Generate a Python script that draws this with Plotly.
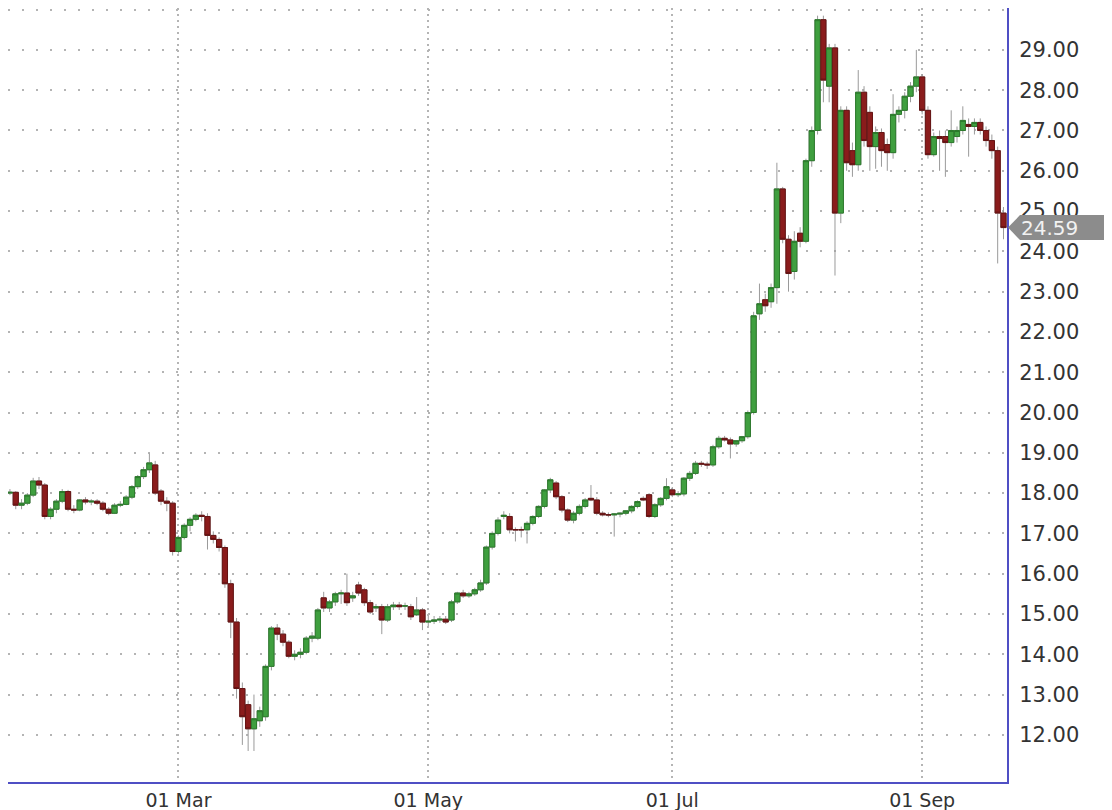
import pandas as pd
import plotly.graph_objects as go

# ---- data ----
HOLIDAYS = ["2020-01-20", "2020-02-17", "2020-04-10", "2020-05-25", "2020-07-03", "2020-09-07"]
DATES = [d.strftime("%Y-%m-%d") for d in pd.bdate_range("2020-01-16", "2020-09-22")
         if d.strftime("%Y-%m-%d") not in HOLIDAYS]

OPEN = [
    # Jan
    17.95, 18.00, 18.02, 17.70, 17.75, 17.95, 18.30, 18.20, 17.42, 17.60, 17.80,
    # Feb
    18.04, 17.60, 17.58, 17.83, 17.78, 17.80, 17.75, 17.60, 17.50, 17.70, 17.72, 17.90, 18.16, 18.41,
    18.58, 18.70, 18.05, 17.80, 17.75,
    # Mar
    16.55, 16.90, 17.20, 17.35, 17.45, 17.42, 16.95, 16.85, 16.65, 15.75, 14.80, 13.15, 12.75, 12.15,
    12.35, 12.45, 13.70, 14.65, 14.50, 14.30, 13.95, 14.00,
    # Apr
    14.05, 14.40, 14.40, 15.40, 15.15, 15.30, 15.50, 15.52, 15.40, 15.72, 15.60, 15.28, 15.15, 15.18,
    14.85, 15.18, 15.22, 15.20, 15.18, 14.98, 15.10,
    # May
    14.80, 14.82, 14.85, 14.87, 14.85, 15.30, 15.52, 15.45, 15.50, 15.60, 15.77, 16.66, 17.00, 17.42,
    17.42, 17.09, 17.09, 17.09, 17.25, 17.42,
    # Jun
    17.67, 18.08, 18.25, 17.91, 17.58, 17.33, 17.50, 17.67, 17.87, 17.83, 17.50, 17.46, 17.46, 17.48,
    17.50, 17.56, 17.67, 17.87, 17.96, 17.42, 17.71, 17.87,
    # Jul
    18.08, 17.96, 17.98, 18.37, 18.49, 18.74, 18.72, 18.70, 19.15, 19.36, 19.32, 19.22, 19.30, 19.40,
    20.00, 22.45, 22.80, 22.75, 23.10, 25.55, 24.30, 23.50,
    # Aug
    24.45, 24.25, 26.25, 27.00, 29.75, 28.10, 29.05, 24.95, 27.50, 26.50, 26.15, 27.95, 27.45, 26.60,
    26.95, 26.65, 26.45, 27.40, 27.50, 27.85, 28.10,
    # Sep
    28.33, 27.50, 26.40, 26.85, 26.85, 26.70, 26.85, 27.00, 27.15, 27.10, 27.20, 27.00, 26.75, 26.50,
    24.95,
]
HIGH = [
    18.10, 18.10, 18.05, 17.85, 18.00, 18.38, 18.40, 18.25, 17.65, 17.85, 18.10,
    18.08, 17.70, 17.85, 17.90, 17.85, 17.85, 17.80, 17.65, 17.75, 17.80, 17.95, 18.20, 18.45, 18.65,
    18.98, 18.80, 18.10, 17.90, 17.80,
    16.95, 17.25, 17.40, 17.50, 17.55, 17.50, 17.05, 16.90, 16.70, 15.85, 14.90, 13.30, 12.85, 13.00,
    12.70, 13.75, 14.70, 14.75, 14.60, 14.35, 14.10, 14.15,
    14.45, 14.55, 15.15, 15.55, 15.35, 15.55, 15.60, 16.00, 15.55, 15.80, 15.65, 15.35, 15.25, 15.25,
    15.25, 15.30, 15.30, 15.28, 15.25, 15.42, 15.15,
    14.95, 14.95, 14.95, 14.95, 15.35, 15.55, 15.60, 15.55, 15.65, 15.85, 16.70, 17.05, 17.40, 17.55,
    17.50, 17.15, 17.17, 17.30, 17.45, 17.70,
    18.10, 18.38, 18.30, 17.95, 17.62, 17.55, 17.72, 17.88, 18.20, 17.90, 17.55, 17.52, 17.50, 17.52,
    17.58, 17.70, 17.82, 17.92, 18.00, 17.75, 17.90, 18.37,
    18.15, 18.05, 18.40, 18.55, 18.80, 18.80, 18.78, 19.20, 19.42, 19.42, 19.38, 19.30, 19.42, 20.05,
    22.50, 23.20, 22.95, 23.20, 26.20, 25.60, 24.40, 24.50,
    24.60, 26.30, 27.10, 29.85, 29.85, 29.15, 29.15, 27.60, 27.60, 26.70, 28.50, 28.10, 27.60, 27.10,
    27.05, 26.80, 27.90, 27.60, 27.95, 28.20, 29.00,
    28.40, 27.60, 26.95, 27.00, 27.00, 27.50, 27.10, 27.60, 27.30, 27.30, 27.30, 27.10, 26.90, 26.60,
    25.10,
]
LOW = [
    17.90, 17.95, 17.60, 17.60, 17.70, 17.90, 18.10, 17.35, 17.35, 17.50, 17.75,
    17.55, 17.50, 17.55, 17.72, 17.70, 17.70, 17.55, 17.45, 17.48, 17.65, 17.70, 17.85, 18.10, 18.35,
    18.50, 17.95, 17.70, 17.55, 16.45,
    16.50, 16.85, 17.05, 17.30, 17.30, 16.60, 16.75, 16.55, 15.65, 14.40, 12.90, 11.75, 11.60, 11.60,
    12.20, 12.35, 13.60, 14.35, 14.20, 13.90, 13.85, 13.90,
    14.00, 14.30, 14.35, 15.05, 15.05, 15.20, 15.25, 15.20, 15.30, 15.45, 15.20, 15.00, 15.05, 14.50,
    14.80, 15.10, 15.10, 15.10, 14.85, 14.95, 14.60,
    14.70, 14.75, 14.78, 14.75, 14.80, 15.25, 15.40, 15.40, 15.45, 15.55, 15.72, 16.60, 16.95, 17.35,
    17.00, 16.80, 16.90, 16.75, 17.20, 17.38,
    17.62, 18.00, 17.85, 17.52, 17.28, 17.25, 17.45, 17.62, 17.80, 17.45, 17.42, 17.40, 16.92, 17.40,
    17.45, 17.50, 17.62, 17.80, 17.38, 17.38, 17.66, 17.82,
    17.90, 17.90, 17.92, 18.30, 18.45, 18.65, 18.60, 18.65, 19.10, 19.28, 18.86, 19.15, 19.25, 19.35,
    19.95, 22.30, 22.50, 22.60, 22.70, 24.20, 23.00, 23.30,
    24.10, 24.20, 26.10, 26.90, 27.70, 27.70, 23.40, 24.70, 26.00, 25.85, 26.00, 26.60, 26.00, 26.05,
    26.10, 26.00, 26.30, 27.20, 27.30, 27.70, 27.95,
    27.40, 26.30, 26.35, 26.00, 25.85, 26.60, 26.70, 26.90, 26.35, 26.90, 26.90, 26.60, 26.30, 23.70,
    24.30,
]
CLOSE = [
    18.00, 18.02, 17.70, 17.75, 17.95, 18.30, 18.20, 17.42, 17.60, 17.80, 18.04,
    17.60, 17.58, 17.83, 17.78, 17.80, 17.75, 17.60, 17.50, 17.70, 17.72, 17.90, 18.16, 18.41, 18.58,
    18.75, 18.00, 17.80, 17.75, 16.55,
    16.90, 17.20, 17.35, 17.45, 17.42, 16.95, 16.85, 16.65, 15.75, 14.80, 13.15, 12.45, 12.15, 12.40,
    12.60, 13.70, 14.65, 14.50, 14.30, 13.95, 14.00, 14.05,
    14.40, 14.45, 15.10, 15.15, 15.30, 15.50, 15.52, 15.28, 15.45, 15.52, 15.28, 15.05, 15.18, 14.85,
    15.18, 15.22, 15.18, 15.20, 14.93, 15.10, 14.80,
    14.82, 14.85, 14.87, 14.80, 15.30, 15.52, 15.45, 15.50, 15.60, 15.77, 16.66, 17.00, 17.33, 17.45,
    17.09, 17.09, 17.09, 17.25, 17.42, 17.67,
    18.08, 18.33, 17.91, 17.58, 17.33, 17.50, 17.67, 17.83, 17.83, 17.50, 17.46, 17.46, 17.48, 17.50,
    17.56, 17.67, 17.79, 17.83, 17.42, 17.71, 17.87, 18.16,
    17.96, 17.98, 18.37, 18.49, 18.74, 18.72, 18.70, 19.15, 19.36, 19.32, 19.22, 19.30, 19.40, 20.00,
    22.40, 22.70, 22.65, 23.10, 25.55, 24.30, 23.45, 24.25,
    24.25, 26.25, 27.00, 29.75, 28.25, 29.05, 24.95, 27.50, 26.20, 26.15, 27.95, 26.75, 26.60, 26.95,
    26.50, 26.45, 27.40, 27.50, 27.85, 28.10, 28.33,
    27.50, 26.40, 26.85, 26.80, 26.70, 27.00, 27.00, 27.25, 27.10, 27.20, 27.00, 26.75, 26.50, 24.95,
    24.59,
]

Y_TICKS = list(range(12, 31))
Y_TICK_TEXT = [f"{v:.2f}" if v <= 29 else "" for v in Y_TICKS]
X_TICK_DATES = ["2020-03-02", "2020-05-01", "2020-07-01", "2020-09-01"]
X_TICK_TEXT = ["01 Mar", "01 May", "01 Jul", "01 Sep"]
LAST_PRICE = CLOSE[-1]

assert len(DATES) == len(OPEN) == len(HIGH) == len(LOW) == len(CLOSE), (
    len(DATES), len(OPEN), len(HIGH), len(LOW), len(CLOSE))

# ---- styling ----
UP = "#3f9f3f"
DOWN = "#8a1c1c"
WICK = "#9a9a9a"
BORDER = "#4f4fc4"
GRID = "#b4b4b4"
FONT = "DejaVu Sans"

body_hi = [max(o, c) for o, c in zip(OPEN, CLOSE)]
body_lo = [min(o, c) for o, c in zip(OPEN, CLOSE)]

fig = go.Figure()
# wicks (gray)
fig.add_trace(go.Candlestick(
    x=DATES, open=OPEN, high=HIGH, low=LOW, close=CLOSE,
    increasing=dict(line=dict(color=WICK, width=1), fillcolor=WICK),
    decreasing=dict(line=dict(color=WICK, width=1), fillcolor=WICK),
    showlegend=False, hoverinfo="skip",
))
# bodies (coloured)
fig.add_trace(go.Candlestick(
    x=DATES, open=OPEN, high=body_hi, low=body_lo, close=CLOSE,
    increasing=dict(line=dict(color="#2c7a2c", width=1), fillcolor=UP),
    decreasing=dict(line=dict(color="#661414", width=1), fillcolor=DOWN),
    showlegend=False,
))

# The page body has an 8px margin, so the figure is sized to end at the window edge.
fig.update_layout(
    width=1104, height=802,
    margin=dict(l=0, r=105, t=0, b=28, autoexpand=False),
    paper_bgcolor="white", plot_bgcolor="white",
    boxgap=0.1, boxgroupgap=0,
    font=dict(family=FONT, color="#333333"),
    xaxis=dict(
        type="date", automargin=False,
        range=["2020-01-16 16:00", "2020-09-22 14:30"],
        rangebreaks=[dict(bounds=["sat", "mon"]), dict(values=HOLIDAYS)],
        rangeslider=dict(visible=False),
        tickmode="array", tickvals=X_TICK_DATES, ticktext=X_TICK_TEXT,
        tickfont=dict(family=FONT, size=19, color="#333333"),
        ticks="", ticklabelstandoff=0,
        showgrid=True, gridcolor=GRID, gridwidth=2, griddash="2px,4px",
        showline=True, linecolor=BORDER, linewidth=2,
        zeroline=False, fixedrange=True,
    ),
    yaxis=dict(
        side="right", automargin=False,
        range=[10.83, 30.04],
        tickmode="array", tickvals=Y_TICKS, ticktext=Y_TICK_TEXT,
        tickfont=dict(family=FONT, size=21, color="#333333"),
        ticks="", ticklabelstandoff=6,
        showgrid=True, gridcolor=GRID, gridwidth=2, griddash="2px,12px",
        showline=True, linecolor=BORDER, linewidth=2,
        zeroline=False,
    ),
)

# last-price marker
h = 0.31
fig.add_shape(
    type="path", xref="paper", yref="y",
    path=(f"M 1.001,{LAST_PRICE} L 1.013,{LAST_PRICE + h} L 1.11,{LAST_PRICE + h} "
          f"L 1.11,{LAST_PRICE - h} L 1.013,{LAST_PRICE - h} Z"),
    fillcolor="#8c8c8c", line=dict(width=0), layer="above",
)
fig.add_annotation(
    xref="paper", yref="y", x=1.012, y=LAST_PRICE, xanchor="left", yanchor="middle",
    text=f"{LAST_PRICE:.2f}", showarrow=False,
    font=dict(family=FONT, size=20, color="#f2f2f2"),
)

fig.write_html("out.html")
